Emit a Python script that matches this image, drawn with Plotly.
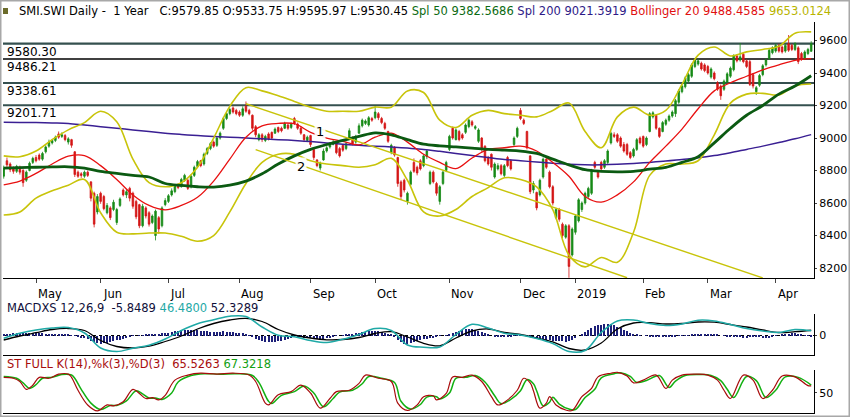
import pandas as pd
import plotly.graph_objects as go

# SMI daily candles, 17 Apr 2018 - 16 Apr 2019 (SIX trading days)
holidays = ["2018-05-01", "2018-05-10", "2018-05-21", "2018-08-01",
            "2018-12-24", "2018-12-25", "2018-12-26", "2018-12-31",
            "2019-01-01", "2019-01-02"]
days = pd.bdate_range("2018-04-17", "2019-04-16")
days = days[~days.isin(pd.to_datetime(holidays))]

opens = [8765, 8860, 8840, 8810, 8795, 8820, 8800, 8740, 8800, 8850,
         8880, 8895, 8870, 8915, 8950, 8970, 8985, 9025, 9010, 9015,
         8975, 8990, 8915, 8790, 8780, 8765, 8790, 8730, 8660, 8545,
         8660, 8640, 8540, 8570, 8560, 8480, 8585, 8680, 8650, 8690,
         8660, 8610, 8590, 8460, 8570, 8540, 8480, 8400, 8510, 8460,
         8590, 8610, 8650, 8670, 8710, 8700, 8740, 8740, 8700, 8770,
         8825, 8860, 8840, 8905, 8935, 8975, 8955, 9000, 9060, 9120,
         9150, 9185, 9170, 9160, 9140, 9195, 9170, 9140, 9070, 8990,
         9020, 8985, 9025, 9035, 9030, 9065, 9060, 9060, 9080, 9065,
         9120, 9085, 9060, 9020, 8985, 9015, 8930, 8865, 8815, 8865,
         8920, 8945, 8960, 8975, 8935, 8955, 8935, 8995, 9000, 8975,
         9030, 9075, 9090, 9080, 9120, 9125, 9150, 9120, 9090, 9040,
         8910, 8940, 8880, 8730, 8740, 8610, 8715, 8850, 8820, 8860,
         8830, 8885, 8720, 8790, 8720, 8610, 8720, 8800, 8930, 9060,
         8990, 9040, 9020, 9035, 9070, 9100, 9060, 8980, 9000, 8950,
         8880, 8900, 8760, 8810, 8830, 8770, 8880, 8860, 8960, 9010,
         9170, 9110, 9040, 8890, 8680, 8665, 8650, 8760, 8870, 8790,
         8700, 8510, 8560, 8470, 8390, 8460, 8280, 8420, 8490, 8560,
         8600, 8640, 8660, 8850, 8790, 8850, 8820, 8850, 8970, 9020,
         9020, 9000, 8960, 8960, 8910, 8890, 8930, 9000, 9010, 8960,
         9040, 9130, 9140, 9060, 9040, 9085, 9110, 9135, 9150, 9220,
         9285, 9315, 9350, 9380, 9440, 9455, 9460, 9450, 9440, 9375,
         9400, 9340, 9320, 9300, 9345, 9380, 9420, 9505, 9480, 9515,
         9475, 9470, 9390, 9285, 9325, 9390, 9450, 9490, 9525, 9535,
         9570, 9560, 9535, 9580, 9570, 9545, 9555, 9520, 9490, 9520,
         9533.75]
highs = [8830, 8880, 8850, 8825, 8835, 8830, 8810, 8800, 8855, 8885,
         8895, 8905, 8915, 8955, 8990, 8995, 9015, 9040, 9035, 9025,
         9005, 8995, 8920, 8800, 8790, 8800, 8800, 8735, 8670, 8655,
         8670, 8650, 8600, 8580, 8620, 8570, 8635, 8690, 8685, 8700,
         8670, 8620, 8595, 8595, 8580, 8550, 8530, 8560, 8520, 8580,
         8630, 8655, 8690, 8715, 8720, 8755, 8780, 8750, 8775, 8830,
         8865, 8865, 8910, 8945, 8975, 8985, 9010, 9040, 9130, 9160,
         9185, 9195, 9180, 9170, 9195, 9225, 9180, 9145, 9080, 9030,
         9030, 9020, 9035, 9040, 9065, 9070, 9070, 9100, 9090, 9095,
         9130, 9095, 9070, 9025, 9015, 9020, 8935, 8870, 8855, 8935,
         8950, 8975, 8990, 8980, 8945, 8960, 8975, 9060, 9010, 9020,
         9090, 9120, 9115, 9135, 9130, 9200, 9160, 9130, 9100, 9045,
         8965, 8950, 8885, 8740, 8750, 8670, 8800, 8875, 8830, 8870,
         8900, 8930, 8800, 8800, 8730, 8710, 8800, 8860, 9020, 9070,
         9060, 9050, 9030, 9090, 9120, 9110, 9080, 9060, 9005, 8955,
         8890, 8905, 8850, 8845, 8840, 8840, 8890, 8870, 9010, 9070,
         9185, 9120, 9045, 8895, 8735, 8670, 8750, 8880, 8885, 8800,
         8710, 8570, 8570, 8480, 8470, 8470, 8450, 8530, 8630, 8610,
         8670, 8700, 8810, 8860, 8800, 8860, 8870, 8930, 9040, 9035,
         9030, 9010, 8975, 8970, 8920, 8940, 9000, 9010, 9015, 9010,
         9160, 9165, 9145, 9065, 9105, 9120, 9145, 9170, 9240, 9300,
         9330, 9380, 9400, 9460, 9490, 9490, 9470, 9460, 9450, 9435,
         9410, 9350, 9330, 9360, 9405, 9440, 9515, 9515, 9585, 9525,
         9485, 9480, 9400, 9320, 9395, 9455, 9490, 9550, 9565, 9580,
         9580, 9570, 9580, 9634, 9580, 9590, 9565, 9530, 9540, 9555,
         9595.97]
lows = [8750, 8820, 8790, 8780, 8785, 8775, 8700, 8730, 8795, 8840,
        8850, 8860, 8860, 8905, 8940, 8960, 8975, 8995, 9000, 8980,
        8960, 8940, 8760, 8755, 8755, 8755, 8760, 8610, 8450, 8530,
        8595, 8555, 8530, 8495, 8550, 8465, 8575, 8640, 8630, 8610,
        8565, 8500, 8445, 8450, 8505, 8455, 8470, 8370, 8410, 8450,
        8580, 8600, 8640, 8660, 8685, 8695, 8730, 8680, 8690, 8760,
        8815, 8820, 8830, 8895, 8925, 8940, 8945, 8990, 9050, 9110,
        9140, 9150, 9140, 9130, 9130, 9155, 9140, 9045, 9005, 8980,
        8975, 8975, 8985, 8990, 9025, 9030, 9035, 9055, 9050, 9055,
        9080, 9050, 9020, 8975, 8975, 8945, 8865, 8820, 8800, 8860,
        8910, 8935, 8955, 8900, 8880, 8915, 8925, 8990, 8955, 8965,
        9025, 9065, 9080, 9070, 9100, 9115, 9110, 9085, 9050, 8970,
        8900, 8885, 8700, 8620, 8665, 8590, 8705, 8785, 8770, 8800,
        8820, 8870, 8710, 8720, 8645, 8590, 8710, 8790, 8920, 8990,
        8985, 8980, 8990, 9025, 9060, 9070, 9050, 8970, 8915, 8850,
        8830, 8800, 8750, 8800, 8770, 8760, 8820, 8800, 8950, 9000,
        9110, 9080, 8930, 8655, 8660, 8555, 8640, 8750, 8810, 8690,
        8585, 8500, 8485, 8385, 8380, 8140, 8270, 8405, 8480, 8545,
        8590, 8630, 8650, 8810, 8750, 8800, 8810, 8840, 8960, 9000,
        8970, 8940, 8910, 8890, 8870, 8880, 8920, 8960, 8940, 8950,
        9035, 9120, 9050, 9000, 9035, 9075, 9100, 9125, 9130, 9210,
        9275, 9305, 9340, 9370, 9430, 9445, 9415, 9405, 9390, 9365,
        9355, 9290, 9235, 9290, 9335, 9370, 9410, 9465, 9470, 9460,
        9430, 9320, 9305, 9265, 9315, 9380, 9440, 9480, 9515, 9525,
        9525, 9520, 9525, 9530, 9535, 9535, 9455, 9475, 9480, 9510,
        9530.45]
closes = [8815, 8835, 8805, 8795, 8825, 8790, 8725, 8790, 8845, 8875,
          8860, 8870, 8905, 8945, 8975, 8985, 9005, 9005, 9020, 8990,
          8995, 8955, 8775, 8765, 8770, 8790, 8770, 8630, 8470, 8640,
          8610, 8565, 8585, 8510, 8605, 8560, 8625, 8650, 8670, 8630,
          8580, 8515, 8460, 8580, 8520, 8470, 8520, 8550, 8440, 8570,
          8615, 8645, 8675, 8705, 8695, 8745, 8770, 8690, 8765, 8820,
          8855, 8830, 8900, 8935, 8965, 8950, 9000, 9030, 9120, 9150,
          9175, 9160, 9150, 9140, 9180, 9165, 9150, 9060, 9020, 9020,
          8990, 9010, 8995, 9000, 9055, 9040, 9045, 9090, 9060, 9085,
          9090, 9060, 9030, 8990, 9005, 8960, 8880, 8830, 8845, 8920,
          8940, 8965, 8975, 8910, 8890, 8925, 8965, 9045, 8965, 9010,
          9075, 9110, 9105, 9125, 9110, 9160, 9125, 9095, 9060, 8980,
          8955, 8895, 8720, 8640, 8680, 8660, 8790, 8795, 8785, 8810,
          8890, 8920, 8790, 8730, 8660, 8700, 8790, 8850, 9010, 9000,
          9050, 8990, 9000, 9080, 9110, 9080, 9070, 9050, 8930, 8860,
          8840, 8820, 8840, 8830, 8780, 8830, 8830, 8810, 9000, 9060,
          9120, 9090, 8940, 8670, 8720, 8570, 8740, 8870, 8820, 8700,
          8600, 8560, 8500, 8400, 8460, 8210, 8440, 8520, 8620, 8600,
          8660, 8690, 8800, 8820, 8760, 8810, 8860, 8920, 9030, 9010,
          8980, 8950, 8920, 8900, 8880, 8930, 8990, 8970, 8950, 9000,
          9150, 9155, 9060, 9010, 9095, 9110, 9135, 9160, 9230, 9290,
          9320, 9370, 9390, 9450, 9480, 9475, 9425, 9415, 9400, 9425,
          9365, 9300, 9260, 9350, 9395, 9430, 9505, 9475, 9500, 9470,
          9440, 9330, 9320, 9310, 9385, 9445, 9480, 9540, 9555, 9570,
          9535, 9530, 9570, 9540, 9545, 9580, 9470, 9485, 9530, 9545,
          9579.85]

# overlays read every fifth trading day
ov_day = list(range(0, 251, 5))
spl50 = [8815, 8818, 8820, 8822, 8823, 8815, 8795, 8782, 8770, 8760,
         8720, 8708, 8700, 8698, 8710, 8735, 8780, 8840, 8890, 8930,
         8960, 8985, 9010, 9032, 9020, 8990, 8962, 8952, 8945, 8938,
         8930, 8925, 8920, 8905, 8870, 8835, 8805, 8795, 8792, 8795,
         8808, 8820, 8850, 8885, 8970, 9060, 9140, 9200, 9270, 9320,
         9383]
spl200 = [9097, 9096, 9095, 9093, 9090, 9080, 9070, 9060, 9050, 9040,
          9030, 9022, 9015, 9010, 9005, 9000, 8995, 8990, 8985, 8978,
          8970, 8962, 8955, 8950, 8945, 8938, 8930, 8918, 8905, 8892,
          8880, 8868, 8860, 8852, 8845, 8838, 8835, 8835, 8838, 8843,
          8850, 8858, 8868, 8878, 8892, 8910, 8930, 8950, 8972, 8995,
          9021]
bb_mid = [8712, 8735, 8782, 8840, 8888, 8892, 8830, 8745, 8650, 8585,
          8558, 8585, 8635, 8735, 8870, 9005, 9075, 9090, 9088, 9035,
          9000, 8980, 8958, 9005, 9030, 8975, 8900, 8850, 8812, 8877,
          8930, 8940, 8950, 8920, 8850, 8765, 8640, 8605, 8650, 8730,
          8850, 8950, 9055, 9180, 9290, 9340, 9380, 9420, 9450, 9478,
          9488]
bb_up = [8890, 8885, 8920, 8990, 9050, 9095, 9165, 9100, 8870, 8725,
         8700, 8725, 8820, 9000, 9195, 9310, 9290, 9260, 9225, 9190,
         9165, 9165, 9165, 9190, 9190, 9290, 9280, 9110, 9065, 9140,
         9170, 9150, 9140, 9130, 9170, 9215, 9040, 8940, 9130, 9190,
         9140, 9170, 9330, 9510, 9560, 9505, 9530, 9545, 9565, 9645,
         9653]
bb_low = [8526, 8545, 8630, 8675, 8710, 8745, 8540, 8420, 8410, 8415,
          8415, 8395, 8365, 8400, 8545, 8720, 8850, 8900, 8900, 8860,
          8840, 8830, 8820, 8835, 8875, 8740, 8545, 8520, 8560, 8640,
          8695, 8755, 8745, 8700, 8560, 8280, 8207, 8265, 8235, 8420,
          8770, 8840, 8840, 8860, 9020, 9215, 9270, 9275, 9265, 9320,
          9332]

levels = [9580.30, 9486.21, 9338.61, 9201.71]
level_colors = ["#35504f", "#000000", "#35504f", "#35504f"]

# trend channel: (days, prices) at both ends
trend_1 = ([75, 235], [9211, 8139])
trend_2 = ([78, 193], [8929, 8140])
trend_tags = [("1", 98, 9043), ("2", 92, 8822)]

price_ticks = [8200, 8400, 8600, 8800, 9000, 9200, 9400, 9600]
month_labels = ["May", "Jun", "Jul", "Aug", "Sep", "Oct", "Nov", "Dec",
                "2019", "Feb", "Mar", "Apr"]

# MACD 12,26,9
macd = [-28, 22, 55, 75, 80, 25, -125, -160, -128, -97,
        -35, 50, 117, 157, 193, 190, 85, 2, -12, -50,
        -70, -38, 10, 69, 50, -95, -117, -115, 10, 112,
        75, 22, 5, -30, -80, -160, -150, 30, 145, 155,
        120, 100, 115, 152, 145, 110, 70, 45, 30, 60,
        46.48]
macd_sig = [-45, -5, 28, 60, 70, 50, -50, -110, -125, -107,
            -60, -5, 65, 120, 155, 172, 140, 60, 5, -25,
            -43, -40, -20, 20, 38, -15, -78, -103, -25, 45,
            65, 30, 10, -25, -63, -130, -145, -75, 65, 125,
            128, 115, 120, 135, 133, 110, 85, 55, 30, 38,
            52.33]
macd_hist = [15, 18, 20, 22, 25, 27, 28, 28, 27, 27,
             27, 25, 22, 20, 18, 15, 14, 12, 11, 10,
             10, 5, -5, -15, -20, -25, -35, -50, -65, -75,
             -80, -78, -70, -62, -55, -48, -40, -30, -20, -10,
             -3, 0, 3, 5, 8, 10, 12, 15, 18, 22,
             25, 30, 36, 42, 48, 53, 55, 55, 54, 53,
             52, 50, 46, 42, 40, 37, 38, 40, 42, 40,
             38, 35, 30, 25, 22, 18, 5, -15, -30, -45,
             -55, -60, -65, -63, -60, -58, -50, -42, -35, -25,
             -17, -15, -18, -22, -25, -25, -28, -32, -35, -30,
             -27, -20, -12, -5, 0, 2, 8, 14, 20, 25,
             30, 35, 40, 44, 47, 49, 45, 38, 30, 20,
             12, -10, -40, -65, -80, -80, -70, -60, -50, -45,
             -39, -33, -27, -20, -12, -5, 0, 5, 20, 30,
             35, 45, 55, 62, 66, 67, 60, 50, 38, 25,
             10, 0, -8, -15, -18, -12, -8, -6, -5, -3,
             -5, 0, -5, -12, -20, -28, -35, -42, -45, -48,
             -50, -52, -55, -58, -60, -55, -40, -20, 0, 20,
             40, 60, 80, 95, 105, 110, 115, 118, 115, 105,
             90, 75, 60, 45, 30, 20, 12, 5, 0, -5,
             -8, -10, -12, -14, -15, -15, -14, -12, -8, -5,
             -5, -2, 2, 6, 10, 15, 17, 15, 13, 12,
             12, 8, 0, -5, -8, -10, -12, -15, -18, -20,
             -20, -18, -15, -12, -15, -20, -25, -25, -15, -5,
             0, 8, 15, 20, 22, 22, 18, 12, 5, -2, -6]

# full stochastic 14,3,3
stoch_k_day = [0, 3, 5, 7, 9, 11, 14, 17, 20, 21, 23, 26, 29, 32, 34, 37, 40,
               42, 44, 46, 48, 50, 53, 57, 61, 66, 71, 76, 78, 81, 82, 85, 89,
               92, 95, 98, 101, 103, 107, 110, 112, 116, 120, 122, 125, 128,
               130, 133, 134, 137, 139, 142, 145, 148, 151, 153, 156, 159, 161,
               163, 164, 166, 168, 169, 171, 174, 176, 179, 182, 184, 188, 190,
               193, 195, 198, 202, 205, 207, 210, 215, 218, 221, 223, 225, 229,
               232, 235, 238, 241, 245, 249, 250]
stoch_k = [84, 82, 75, 58, 67, 84, 82, 91, 91, 84, 56, 24, 11, 24, 22, 31, 58,
           49, 38, 40, 35, 45, 78, 89, 93, 91, 93, 89, 75, 28, 24, 46, 53,
           67, 50, 17, 38, 53, 56, 71, 89, 82, 75, 28, 12, 24,
           42, 44, 35, 49, 85, 84, 89, 75, 42, 24, 35, 56, 82,
           72, 55, 17, 28, 42, 24, 13, 12, 42, 60, 85, 93, 95,
           87, 72, 78, 89, 60, 78, 89, 91, 89, 78, 56, 38, 89,
           78, 38, 56, 87, 85, 66, 65.53]
stoch_d_day = [0, 4, 6, 8, 10, 12, 15, 18, 21, 22, 24, 27, 30, 33, 35, 38, 41,
               43, 45, 47, 49, 52, 54, 58, 62, 67, 72, 77, 79, 82, 83, 86, 90,
               93, 96, 99, 102, 104, 108, 111, 113, 117, 121, 123, 126, 129,
               131, 134, 135, 138, 140, 143, 146, 149, 152, 154, 157, 160, 162,
               164, 165, 167, 169, 170, 172, 175, 177, 180, 183, 185, 189, 191,
               194, 196, 199, 203, 206, 208, 211, 216, 219, 222, 224, 226, 230,
               233, 236, 239, 242, 246, 250]
stoch_d = [86, 82, 72, 60, 68, 82, 84, 90, 89, 82, 58, 28, 14, 23, 23, 33, 55,
           48, 39, 39, 36, 50, 74, 88, 92, 91, 92, 88, 73, 32, 27, 45, 53,
           65, 50, 20, 38, 52, 56, 70, 86, 82, 73, 32, 15, 25,
           41, 42, 37, 50, 82, 84, 88, 74, 44, 27, 36, 55, 79,
           70, 55, 22, 30, 41, 26, 15, 14, 40, 58, 83, 92, 94,
           86, 73, 77, 88, 62, 76, 88, 90, 88, 77, 58, 40, 86,
           77, 40, 56, 85, 84, 67.32]

W, H = 850, 417


def py(px):
    return 1 - px / H


x_dom = [3 / W, 814 / W]
x_rng = [-0.22, 250.87]
day_idx = list(range(len(closes)))
month_pos = [i for i in range(1, len(days)) if days[i].month != days[i - 1].month]

fig = go.Figure()

fig.add_trace(go.Candlestick(
    x=day_idx, open=opens, high=highs, low=lows, close=closes,
    increasing=dict(line=dict(color="#178a17", width=0.8), fillcolor="#178a17"),
    decreasing=dict(line=dict(color="#d41515", width=0.8), fillcolor="#d41515"),
    whiskerwidth=0, xaxis="x", yaxis="y"))

line_opts = dict(mode="lines", xaxis="x", yaxis="y", hoverinfo="skip",
                 line_shape="spline")
fig.add_trace(go.Scatter(x=ov_day, y=spl200, line=dict(color="#3a1f93", width=1.5), **line_opts))
fig.add_trace(go.Scatter(x=ov_day, y=bb_up, line=dict(color="#c8c40a", width=1.6), **line_opts))
fig.add_trace(go.Scatter(x=ov_day, y=bb_low, line=dict(color="#c8c40a", width=1.6), **line_opts))
fig.add_trace(go.Scatter(x=ov_day, y=bb_mid, line=dict(color="#e81010", width=1.3), **line_opts))
fig.add_trace(go.Scatter(x=ov_day, y=spl50, line=dict(color="#0b5a12", width=2.8), **line_opts))

# MACD panel
fig.add_trace(go.Bar(x=day_idx, y=macd_hist, width=0.35, marker=dict(color="#1c1f78", line_width=0),
                     xaxis="x2", yaxis="y2"))
fig.add_trace(go.Scatter(x=ov_day, y=macd_sig, mode="lines", line=dict(color="#000000", width=1.3),
                         line_shape="spline", xaxis="x2", yaxis="y2"))
fig.add_trace(go.Scatter(x=ov_day, y=macd, mode="lines", line=dict(color="#1fa9a6", width=1.5),
                         line_shape="spline", xaxis="x2", yaxis="y2"))

# stochastic panel
fig.add_trace(go.Scatter(x=stoch_d_day, y=stoch_d, mode="lines", line=dict(color="#12b012", width=1.5),
                         line_shape="spline", xaxis="x3", yaxis="y3"))
fig.add_trace(go.Scatter(x=stoch_k_day, y=stoch_k, mode="lines", line=dict(color="#a80c0c", width=1.2),
                         line_shape="spline", xaxis="x3", yaxis="y3"))

shapes = []
for lvl, col in zip(levels, level_colors):
    shapes.append(dict(type="line", xref="x domain", yref="y", x0=0, x1=1, y0=lvl, y1=lvl,
                       line=dict(color=col, width=1.3 if col == "#000000" else 2.2), layer="below"))
for tl in (trend_1, trend_2):
    shapes.append(dict(type="line", xref="x", yref="y", x0=tl[0][0], x1=tl[0][1],
                       y0=tl[1][0], y1=tl[1][1], line=dict(color="#c8c40a", width=1.4)))
shapes.append(dict(type="line", xref="x2 domain", yref="y2", x0=0, x1=1, y0=0, y1=0,
                   line=dict(color="#000000", width=1, dash="dot"), layer="below"))
shapes.append(dict(type="rect", xref="paper", yref="paper", x0=3 / W, x1=8 / W, y0=py(14), y1=py(8),
                   fillcolor="#6b6b2a", line_width=0))
shapes.append(dict(type="rect", xref="paper", yref="paper", x0=0, x1=1, y0=0, y1=1,
                   line=dict(color="#a8a8a8", width=3)))

font = "DejaVu Sans"
ann = []
for lvl in levels:
    ann.append(dict(xref="paper", yref="y", x=5 / W, y=lvl, yshift=-8, text=f"{lvl:.2f}",
                    showarrow=False, xanchor="left", yanchor="middle",
                    font=dict(size=12, color="#000000")))
for txt, d, p in trend_tags:
    ann.append(dict(xref="x", yref="y", x=d, y=p, text=txt, showarrow=False,
                    font=dict(size=13, color="#000000"), bgcolor="rgba(255,255,255,0.9)"))
for pos, lab in zip(month_pos, month_labels):
    ann.append(dict(xref="x", yref="paper", x=pos, y=py(294), text=lab, showarrow=False,
                    xanchor="left", yanchor="middle", font=dict(size=11.5, color="#000000")))

title_txt = ("SMI.SWI Daily -  1 Year   C:9579.85 O:9533.75 H:9595.97 L:9530.45 "
             "<span style='color:#0b6a12'>Spl 50 9382.5686</span> "
             "<span style='color:#2e1a87'>Spl 200 9021.3919</span> "
             "<span style='color:#e01010'>Bollinger 20 9488.4585</span> "
             "<span style='color:#b8b400'>9653.0124</span>")
ann.append(dict(xref="paper", yref="paper", x=17 / W, y=py(11), text=title_txt, showarrow=False,
                xanchor="left", yanchor="middle", font=dict(size=11.5, color="#000000")))
ann.append(dict(xref="paper", yref="paper", x=5 / W, y=py(308),
                text="MACDXS 12,26,9  -5.8489 <span style='color:#1fa9a6'>46.4800</span> 52.3289",
                showarrow=False, xanchor="left", yanchor="middle",
                font=dict(size=11.5, color="#10103a")))
ann.append(dict(xref="paper", yref="paper", x=5 / W, y=py(364),
                text="ST FULL K(14),%k(3),%D(3)  65.5263 <span style='color:#12a012'>67.3218</span>",
                showarrow=False, xanchor="left", yanchor="middle",
                font=dict(size=11.5, color="#a80c0c")))

ax_common = dict(showgrid=False, zeroline=False, linecolor="#000000", linewidth=1)
ytick_font = dict(size=11, color="#000000")

fig.update_layout(
    width=W, height=H, margin=dict(l=0, r=0, t=0, b=0),
    paper_bgcolor="#ffffff", plot_bgcolor="#ffffff",
    font=dict(family=font, size=12, color="#000000"),
    showlegend=False, bargap=0,
    shapes=shapes, annotations=ann,
    xaxis=dict(domain=x_dom, range=x_rng, anchor="y", showline=True, ticks="outside", ticklen=4,
               tickvals=month_pos, showticklabels=False, rangeslider=dict(visible=False), **ax_common),
    yaxis=dict(domain=[py(278), py(22)], range=[8138.5, 9714], side="right", anchor="x",
               showline=True, ticks="outside", ticklen=2, tickvals=price_ticks,
               tickfont=ytick_font, **ax_common),
    xaxis2=dict(domain=x_dom, range=x_rng, anchor="y2", showline=True, showticklabels=False,
                ticks="", **ax_common),
    yaxis2=dict(domain=[py(355), py(314)], range=[-195, 215], side="right", anchor="x2",
                showline=True, ticks="outside", ticklen=2, tickvals=[0],
                tickfont=ytick_font, **ax_common),
    xaxis3=dict(domain=x_dom, range=x_rng, anchor="y3", showline=True, showticklabels=False,
                ticks="", **ax_common),
    yaxis3=dict(domain=[py(413), py(370)], range=[6.5, 100], side="right", anchor="x3",
                showline=True, ticks="outside", ticklen=2, tickvals=[50],
                tickfont=ytick_font, **ax_common),
)

# the page is photographed at exactly the figure size: no body margin, no modebar
fig.write_html("out.html", config={"displayModeBar": False},
               post_script="document.body.style.margin='0';")
